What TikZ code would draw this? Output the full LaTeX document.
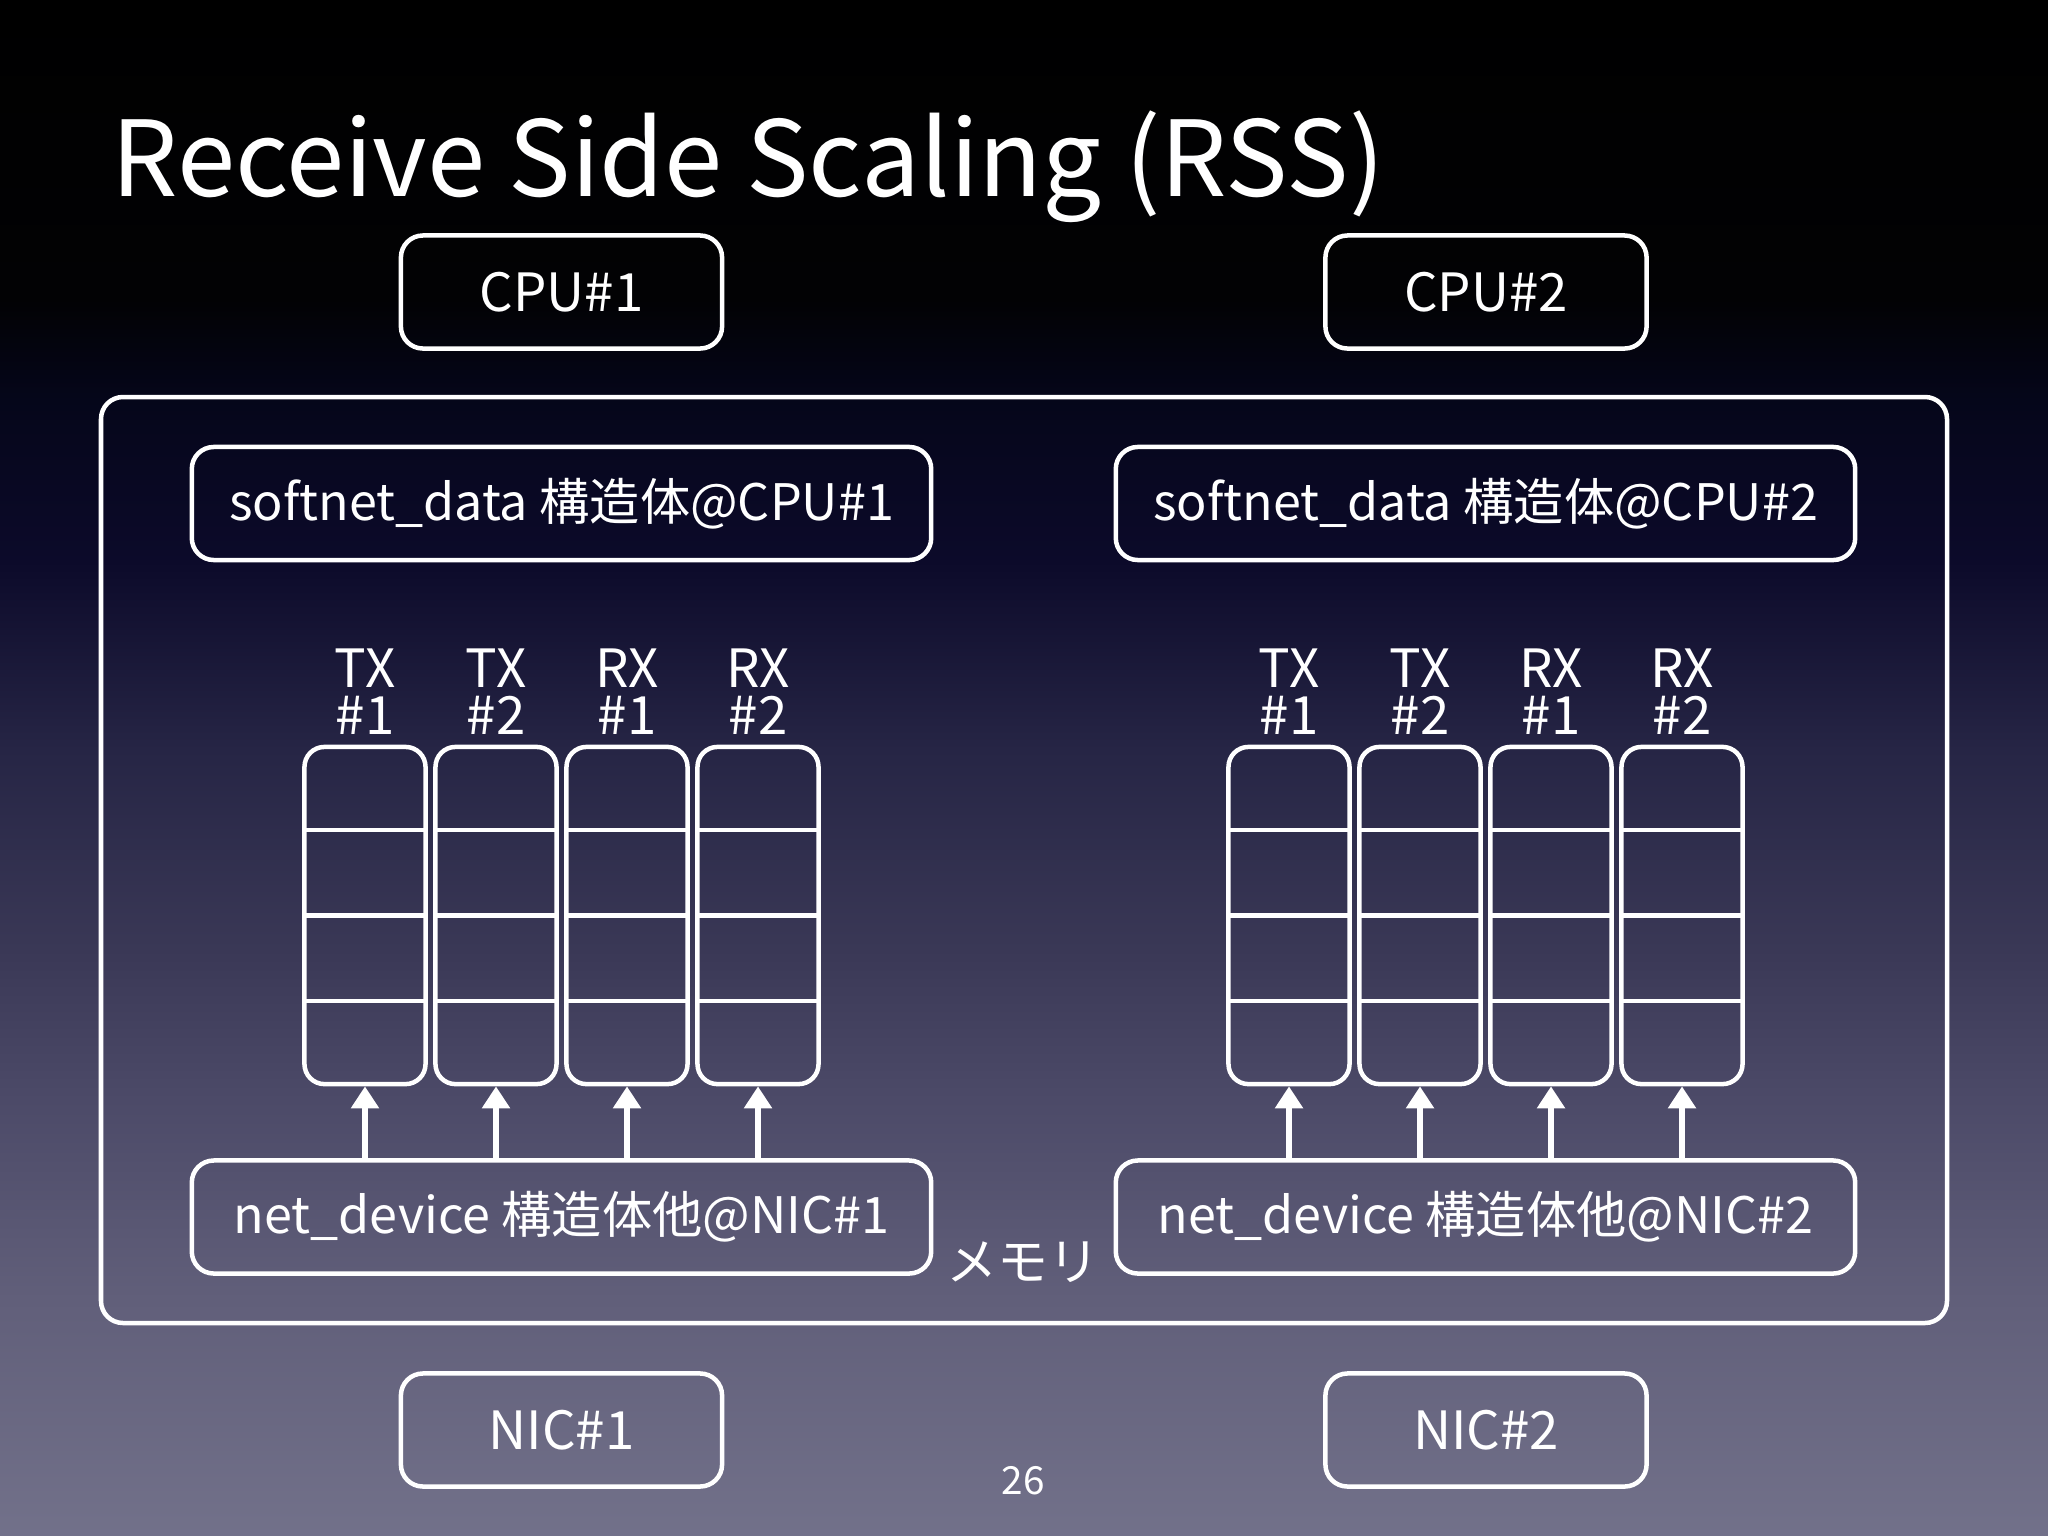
\documentclass[tikz,border=0pt]{standalone}
\usepackage{fontspec}
\setmainfont{Noto Sans CJK JP}
\usetikzlibrary{positioning,arrows.meta,calc}

\definecolor{bgA}{RGB}{114,113,138}
\definecolor{bgB}{RGB}{97,95,122}
\definecolor{bgC}{RGB}{76,74,104}
\definecolor{bgD}{RGB}{58,56,86}
\definecolor{bgE}{RGB}{38,37,69}
\definecolor{bgF}{RGB}{12,10,42}
\definecolor{bgG}{RGB}{5,6,26}
\definecolor{bgH}{RGB}{2,2,4}
% 図形は 25bp--75bp の範囲に当たる
\pgfdeclareverticalshading{slidebg}{100bp}{color(0bp)=(bgA); color(25bp)=(bgA); color(32.7bp)=(bgB);
  color(39.2bp)=(bgC); color(44.1bp)=(bgD); color(50.6bp)=(bgE); color(56.75bp)=(bgF);
  color(62bp)=(bgG); color(65.25bp)=(bgH); color(75bp)=(black); color(100bp)=(black)}

\tikzset{
  rbox/.style={draw=white, line width=0.045cm, rounded corners=0.22cm, text=white, inner sep=0pt},
  unitbox/.style={rbox, minimum width=3.21cm, minimum height=1.13cm, font=\fontsize{15}{18}\selectfont},
  structbox/.style={rbox, minimum width=7.39cm, minimum height=1.13cm, font=\fontsize{14.3}{18}\selectfont},
  queuebox/.style={draw=white, line width=0.045cm, rounded corners=0.2cm, minimum width=1.21cm, minimum height=3.37cm, inner sep=0pt},
  qlabel/.style={text=white, align=center, inner sep=0pt, font=\fontsize{15}{13.4}\selectfont},
  arr/.style={white, line width=0.055cm, -{Triangle[width=0.27cm,length=0.22cm]}},
}

\begin{document}
\begin{tikzpicture}[x=0.01cm,y=-0.01cm]
  % 背景
  \useasboundingbox (0,0) rectangle (2048,1536);
  \shade[shading=slidebg] (0,0) rectangle (2048,1536);
  % タイトル
  \node[anchor=base west, inner sep=0pt, text=white, font=\fontsize{29.8}{32}\selectfont] (title) at (111,196) {Receive Side Scaling (RSS)};
  % CPU と NIC
  \node[unitbox] (cpu1) at (561.5,292) {CPU\#1};
  \node[unitbox] (cpu2) at (1486,292) {CPU\#2};
  \node[unitbox] (nic1) at (561.5,1430) {NIC\#1};
  \node[unitbox] (nic2) at (1486,1430) {NIC\#2};
  % メモリ
  \draw[white, line width=0.045cm, rounded corners=0.22cm] (101,397) rectangle (1947,1323);
  \node[text=white, font=\fontsize{14.5}{16}\selectfont, inner sep=0pt] (mem) at (1023,1262) {メモリ};
  % 構造体
  \foreach \g/\gx in {1/561.5, 2/1485.5} {
    \node[structbox] (sd\g) at (\gx,503.5) {softnet\_data 構造体@CPU\#\g};
    \node[structbox] (nd\g) at (\gx,1217) {net\_device 構造体他@NIC\#\g};
    % キュー
    \foreach \q/\kind/\n [count=\i from 0] in {a/TX/1, b/TX/2, c/RX/1, d/RX/2} {
      \node[queuebox] (q\g\q) at ({\gx+(\i-1.5)*131},915.5) {};
      \foreach \f in {0.25,0.5,0.75}
        \draw[white, line width=0.045cm] ($(q\g\q.south west)!\f!(q\g\q.north west)$) -- ($(q\g\q.south east)!\f!(q\g\q.north east)$);
      \node[qlabel, above=0.09cm of q\g\q] (l\g\q) {\kind\\\#\n};
      \draw[arr] (q\g\q.south |- nd\g.north) -- (q\g\q.south);
    }
  }
  % ページ番号
  \node[text=white, font=\fontsize{11}{12}\selectfont, inner sep=0pt] (page) at (1023,1481) {26};
\end{tikzpicture}
\end{document}
